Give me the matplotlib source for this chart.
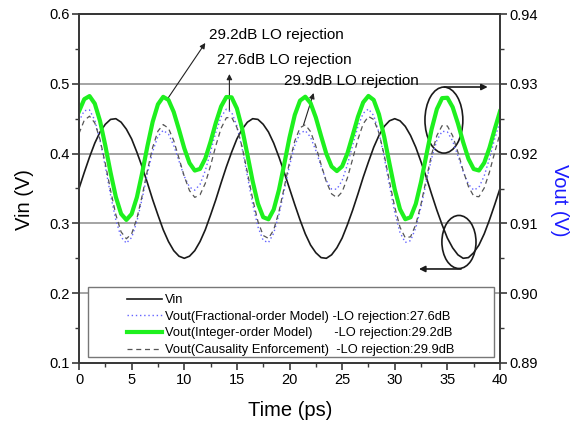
import numpy as np
import matplotlib
matplotlib.use('Agg')
import matplotlib.pyplot as plt
from matplotlib.patches import Ellipse, Rectangle
from matplotlib.ticker import MultipleLocator, FormatStrFormatter

plt.rcParams['font.family'] = ['Liberation Sans', 'DejaVu Sans']

# ---------------- data ----------------
time_ps = np.arange(0, 40.5, 0.5)

vin = [0.350, 0.373, 0.395, 0.415, 0.431, 0.442, 0.449, 0.450, 0.445, 0.435,
       0.421, 0.402, 0.381, 0.358, 0.334, 0.312, 0.291, 0.274, 0.261, 0.253,
       0.250, 0.253, 0.261, 0.274, 0.291, 0.312, 0.334, 0.358, 0.381, 0.402,
       0.421, 0.435, 0.445, 0.450, 0.449, 0.442, 0.431, 0.415, 0.395, 0.373,
       0.350, 0.327, 0.305, 0.285, 0.269, 0.258, 0.251, 0.250, 0.255, 0.265,
       0.279, 0.298, 0.319, 0.342, 0.366, 0.388, 0.409, 0.426, 0.439, 0.447,
       0.450, 0.447, 0.439, 0.426, 0.409, 0.388, 0.366, 0.342, 0.319, 0.298,
       0.279, 0.265, 0.255, 0.250, 0.251, 0.258, 0.269, 0.285, 0.305, 0.327,
       0.350]

vout_fractional = [
    0.92463, 0.92615, 0.92625, 0.92479, 0.92192, 0.91812, 0.91406, 0.91048, 0.90804, 0.90717,
    0.90798, 0.91027, 0.91355, 0.91712, 0.92030, 0.92248, 0.92333, 0.92279, 0.92116, 0.91893,
    0.91674, 0.91520, 0.91476, 0.91559, 0.91756, 0.92025, 0.92304, 0.92527, 0.92636, 0.92594,
    0.92397, 0.92073, 0.91676, 0.91278, 0.90951, 0.90756, 0.90725, 0.90860, 0.91129, 0.91474,
    0.91826, 0.92116, 0.92292, 0.92329, 0.92235, 0.92045, 0.91816, 0.91613, 0.91492, 0.91490,
    0.91614, 0.91840, 0.92120, 0.92388, 0.92578, 0.92639, 0.92545, 0.92301, 0.91945, 0.91540,
    0.91158, 0.90869, 0.90727, 0.90753, 0.90937, 0.91239, 0.91594, 0.91932, 0.92189, 0.92320,
    0.92311, 0.92180, 0.91970, 0.91742, 0.91561, 0.91477, 0.91517, 0.91680, 0.91931, 0.92214,
    0.92463]

vout_integer = [
    0.92605, 0.92780, 0.92824, 0.92716, 0.92466, 0.92115, 0.91728, 0.91379, 0.91137, 0.91050,
    0.91135, 0.91374, 0.91721, 0.92106, 0.92456, 0.92706, 0.92813, 0.92769, 0.92596, 0.92344,
    0.92078, 0.91865, 0.91757, 0.91781, 0.91930, 0.92170, 0.92441, 0.92675, 0.92811, 0.92806,
    0.92647, 0.92358, 0.91986, 0.91604, 0.91284, 0.91089, 0.91059, 0.91199, 0.91481, 0.91849,
    0.92230, 0.92553, 0.92759, 0.92815, 0.92724, 0.92518, 0.92253, 0.91998, 0.91815, 0.91750,
    0.91818, 0.92003, 0.92260, 0.92526, 0.92734, 0.92826, 0.92769, 0.92563, 0.92240, 0.91856,
    0.91487, 0.91203, 0.91060, 0.91088, 0.91280, 0.91597, 0.91978, 0.92348, 0.92637, 0.92795,
    0.92800, 0.92666, 0.92433, 0.92164, 0.91926, 0.91779, 0.91758, 0.91868, 0.92083, 0.92351,
    0.92605]

vout_causality = [
    0.92288, 0.92477, 0.92536, 0.92440, 0.92201, 0.91857, 0.91474, 0.91125, 0.90878, 0.90780,
    0.90850, 0.91071, 0.91396, 0.91760, 0.92090, 0.92322, 0.92416, 0.92363, 0.92186, 0.91934,
    0.91674, 0.91469, 0.91373, 0.91410, 0.91574, 0.91828, 0.92114, 0.92363, 0.92513, 0.92521,
    0.92375, 0.92095, 0.91731, 0.91351, 0.91029, 0.90827, 0.90785, 0.90908, 0.91170, 0.91517,
    0.91877, 0.92180, 0.92370, 0.92414, 0.92315, 0.92107, 0.91845, 0.91596, 0.91423, 0.91370,
    0.91451, 0.91651, 0.91923, 0.92204, 0.92426, 0.92532, 0.92489, 0.92295, 0.91980, 0.91602,
    0.91233, 0.90945, 0.90794, 0.90808, 0.90983, 0.91280, 0.91639, 0.91988, 0.92258, 0.92401,
    0.92396, 0.92256, 0.92022, 0.91757, 0.91528, 0.91391, 0.91382, 0.91507, 0.91736, 0.92019,
    0.92288]

legend_labels = ["Vin",
                 "Vout(Fractional-order Model) -LO rejection:27.6dB",
                 "Vout(Integer-order Model)      -LO rejection:29.2dB",
                 "Vout(Causality Enforcement)  -LO rejection:29.9dB"]

annot_texts = ["29.2dB LO rejection", "27.6dB LO rejection", "29.9dB LO rejection"]

# ---------------- figure ----------------
W, H = 581, 426
fig = plt.figure(figsize=(W / 100, H / 100), dpi=100)
ax = fig.add_axes([79 / W, 1 - 363 / H, 421 / W, 349 / H])
ax2 = ax.twinx()

spine_col = '#3a3a3a'
for a in (ax, ax2):
    for s in a.spines.values():
        s.set_color(spine_col)
        s.set_linewidth(1.4)
ax.spines['top'].set_color('black')

ax.set_xlim(0, 40)
ax.set_ylim(0.1, 0.6)
ax2.set_ylim(0.89, 0.94)

ax.xaxis.set_major_locator(MultipleLocator(5))
ax.xaxis.set_minor_locator(MultipleLocator(2.5))
ax.yaxis.set_major_locator(MultipleLocator(0.1))
ax.yaxis.set_minor_locator(MultipleLocator(0.05))
ax2.yaxis.set_major_locator(MultipleLocator(0.01))
ax2.yaxis.set_minor_locator(MultipleLocator(0.005))
ax.xaxis.set_major_formatter(FormatStrFormatter('%d'))
ax.yaxis.set_major_formatter(FormatStrFormatter('%.1f'))
ax2.yaxis.set_major_formatter(FormatStrFormatter('%.2f'))

for a in (ax, ax2):
    a.tick_params(which='major', direction='out', length=5, width=1.2,
                  color=spine_col, labelsize=10.5, pad=2)
    a.tick_params(which='minor', direction='out', length=3, width=1.0, color=spine_col)
ax.tick_params(axis='x', which='both', top=False)

ax.grid(axis='y', which='major', color='#8c8c8c', linewidth=1.1)
ax.set_axisbelow(True)

l_vin, = ax.plot(time_ps, vin, color='#1a1a1a', lw=1.2)
l_frac, = ax2.plot(time_ps, vout_fractional, color='#6464ff', lw=1.0,
                   linestyle=(0, (1, 2)))
l_int, = ax2.plot(time_ps, vout_integer, color='#1ef01e', lw=3.0)
l_caus, = ax2.plot(time_ps, vout_causality, color='#555555', lw=0.9,
                   linestyle=(0, (4, 3)))

# annotations (left-axis data coordinates)
arrow_kw = dict(arrowstyle='-|>', color='#222222', lw=0.8, mutation_scale=8,
                shrinkA=0, shrinkB=0)
ax.annotate('', xy=(12.0, 0.5585), xytext=(8.38, 0.4777), arrowprops=arrow_kw)
ax.annotate('', xy=(14.29, 0.514), xytext=(14.29, 0.461), arrowprops=arrow_kw)
ax.annotate('', xy=(22.29, 0.4868), xytext=(21.33, 0.4409), arrowprops=arrow_kw)
ax.text(12.38, 0.5700, annot_texts[0], fontsize=11, va='center', ha='left')
ax.text(13.14, 0.5345, annot_texts[1], fontsize=11, va='center', ha='left')
ax.text(19.43, 0.5045, annot_texts[2], fontsize=11, va='center', ha='left')

ax.add_patch(Ellipse((34.67, 0.448), 3.6, 0.0946, fill=False, ec='#1a1a1a', lw=1.2))
ax.add_patch(Ellipse((36.1, 0.2734), 3.24, 0.076, fill=False, ec='#1a1a1a', lw=1.2))
ell_kw = dict(arrowstyle='-|>', color='#1a1a1a', lw=1.2, mutation_scale=9,
              shrinkA=0, shrinkB=0)
ax.annotate('', xy=(38.83, 0.4954), xytext=(34.7, 0.4954), arrowprops=ell_kw)
ax.annotate('', xy=(32.3, 0.2347), xytext=(36.3, 0.2347), arrowprops=ell_kw)

# legend
ax2.add_patch(Rectangle((9 / 421, 6 / 349), 406 / 421, 70 / 349,
                        transform=ax2.transAxes, facecolor='white',
                        edgecolor='#777777', lw=1.0, zorder=5))
leg = ax2.legend([l_vin, l_frac, l_int, l_caus], legend_labels,
                 loc='upper left', bbox_to_anchor=(48 / 421, 69 / 349),
                 frameon=False, fontsize=9.3, borderpad=0, borderaxespad=0,
                 handlelength=2.7, handletextpad=0.25, labelspacing=0.36)
leg.set_zorder(6)

# axis labels
fig.text(25 / W, 1 - 200 / H, 'Vin (V)', rotation=90, ha='center', va='center',
         fontsize=14.5)
fig.text(290 / W, 1 - 411 / H, 'Time (ps)', ha='center', va='center', fontsize=14.5)
fig.text(560 / W, 1 - 200 / H, 'Vout (V)', rotation=270, ha='center', va='center',
         fontsize=14.5, color='#1a1aff')

fig.savefig('out.png', dpi=100)
